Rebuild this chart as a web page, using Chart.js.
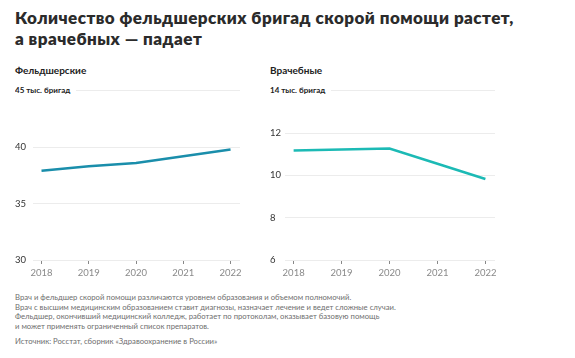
<!DOCTYPE html>
<html lang="ru">
<head>
<meta charset="utf-8">
<script src="https://cdn.jsdelivr.net/npm/chart.js@4"></script>
<style>
  body { margin: 0; background: #fff; font-family: Lato, "Noto Sans", sans-serif; color: #222; }
  #page { position: relative; width: 575px; height: 358px; overflow: hidden; }
  h1 { position: absolute; left: 15px; top: 7px; margin: 0; font-size: 17px; line-height: 21px; font-weight: 800; color: #2b2b2b; letter-spacing: 0.45px; }
  .sub { position: absolute; top: 64px; font-size: 10px; font-weight: 700; color: #222; }
  .unit { position: absolute; top: 85px; font-size: 8px; font-weight: 700; color: #222; background: #fff; padding-right: 6px; }
  .box { position: absolute; top: 85px; height: 200px; width: 235px; }
  .note { position: absolute; left: 15px; top: 293px; font-size: 7.7px; line-height: 9.6px; color: #6e6e6e; }
  .src { position: absolute; left: 15px; top: 336px; font-size: 7.7px; color: #6e6e6e; }
</style>
</head>
<body>
<div id="page">
  <h1>Количество фельдшерских бригад скорой помощи растет,<br>а врачебных — падает</h1>
  <div class="sub" style="left:15px">Фельдшерские</div>
  <div class="sub" style="left:270px">Врачебные</div>
  <div class="box" style="left:15px"><canvas id="feldsher"></canvas></div>
  <div class="box" style="left:270px"><canvas id="vrach"></canvas></div>
  <div class="unit" style="left:15px">45 тыс. бригад</div>
  <div class="unit" style="left:270px">14 тыс. бригад</div>
  <div class="note">Врач и фельдшер скорой помощи различаются уровнем образования и объемом полномочий.<br>Врач с высшим медицинским образованием ставит диагнозы, назначает лечение и ведет сложные случаи.<br>Фельдшер, окончивший медицинский колледж, работает по протоколам, оказывает базовую помощь<br>и может применять ограниченный список препаратов.</div>
  <div class="src">Источник: Росстат, сборник «Здравоохранение в России»</div>
</div>
<script>
const years = [2018, 2019, 2020, 2021, 2022];
const feldsherValues = [37.9, 38.3, 38.6, 39.2, 39.8];
const vrachValues = [11.18, 11.22, 11.27, 10.55, 9.83];
const feldsherTicks = [30, 35, 40, 45];
const vrachTicks = [6, 8, 10, 12, 14];

function makeChart(id, values, yTicks, color, yWidth) {
  const ctx = document.getElementById(id);
  return new Chart(ctx, {
    type: 'line',
    data: {
      datasets: [{
        data: years.map((y, i) => ({ x: y, y: values[i] })),
        borderColor: color,
        borderWidth: 2.5,
        pointRadius: 0,
        tension: 0
      }]
    },
    options: {
      responsive: true,
      maintainAspectRatio: false,
      animation: false,
      layout: { padding: { top: 5, right: 10, left: 0, bottom: 0 } },
      plugins: { legend: { display: false }, tooltip: { enabled: false } },
      scales: {
        x: {
          type: 'linear',
          min: 2017.82,
          max: 2022.2,
          afterBuildTicks: s => { s.ticks = years.map(v => ({ value: v })); },
          afterFit: s => { s.height = 25; },
          border: { display: false },
          grid: { drawOnChartArea: false, drawTicks: true, tickLength: 4, color: '#888' },
          ticks: {
            callback: v => String(v),
            color: '#8a8a8a',
            padding: 3,
            maxRotation: 0,
            font: { family: 'Lato', size: 9.5 }
          }
        },
        y: {
          min: yTicks[0],
          max: yTicks[yTicks.length - 1],
          afterBuildTicks: s => { s.ticks = yTicks.map(v => ({ value: v })); },
          afterFit: s => { s.width = yWidth; },
          border: { display: false },
          grid: { drawTicks: false, color: '#ececec', lineWidth: 1 },
          ticks: {
            callback: (v, i) => i === yTicks.length - 1 ? '' : String(v),
            crossAlign: 'far',
            padding: 0,
            color: '#333',
            font: { family: 'Lato', size: 9.5 }
          }
        }
      }
    }
  });
}

makeChart('feldsher', feldsherValues, feldsherTicks, '#1a8eab', 18);
makeChart('vrach', vrachValues, vrachTicks, '#1cbab5', 15);
</script>
</body>
</html>
